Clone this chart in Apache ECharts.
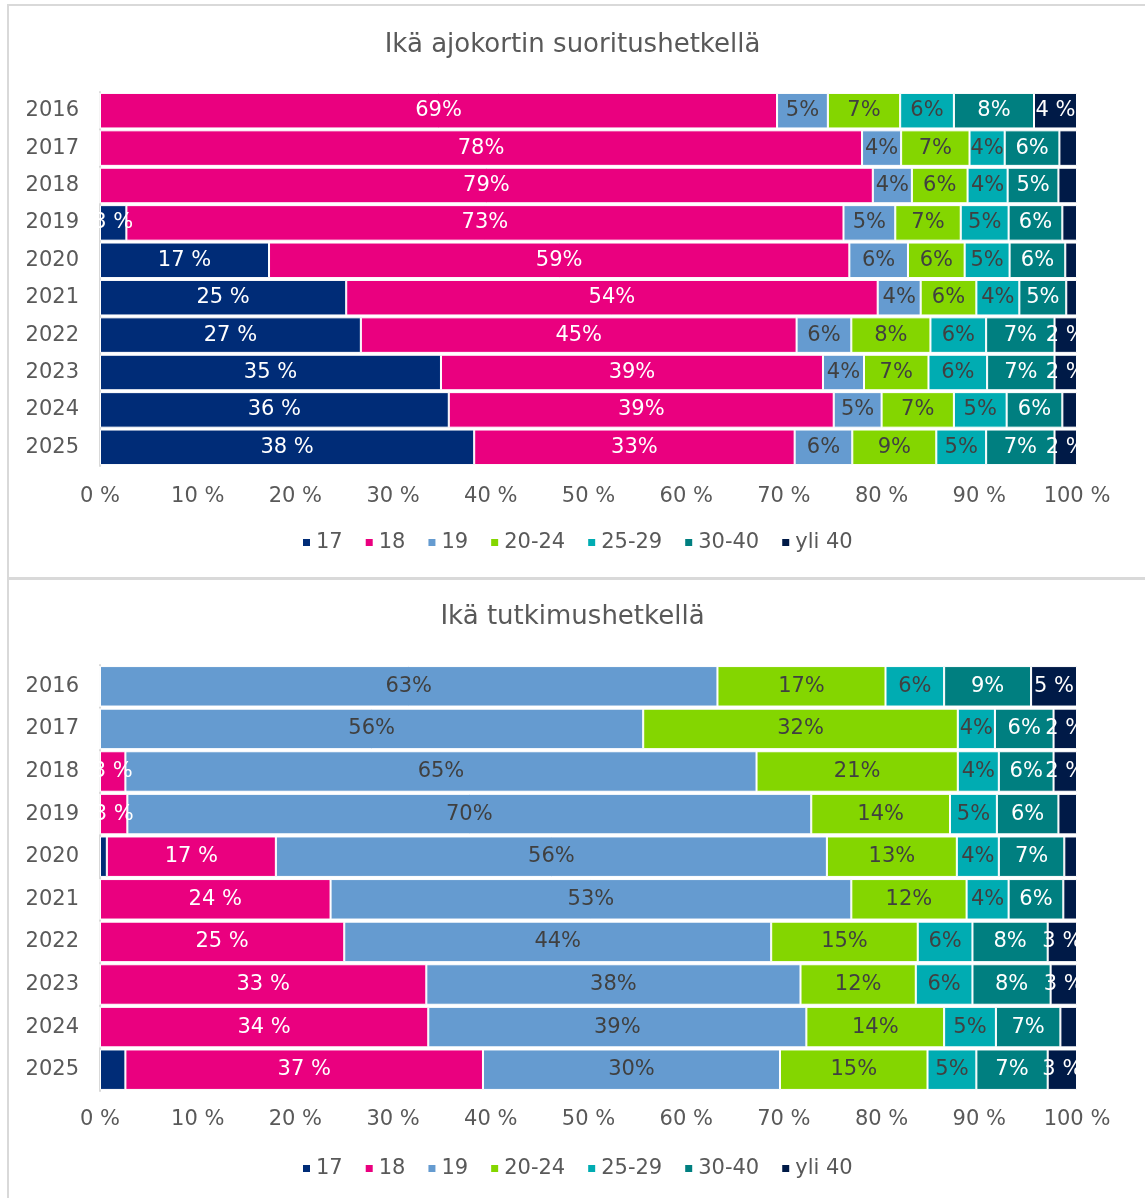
<!DOCTYPE html>
<html>
<head>
<meta charset="utf-8">
<script src="https://cdn.jsdelivr.net/npm/echarts@6/dist/echarts.min.js"></script>
<style>
  body { margin: 0; background: #fff; width: 1145px; height: 1198px; position: relative; overflow: hidden; }
  .panel { position: absolute; left: 7px; width: 1150px; border: 2px solid #d9d9d9; box-sizing: border-box; }
  .chart { position: absolute; left: 0; width: 1145px; }
</style>
</head>
<body>
<div class="panel" style="top: 4px; height: 576px"></div>
<div class="panel" style="top: 577px; height: 640px"></div>
<div id="licenseChart" class="chart" style="top: 0; height: 578px"></div>
<div id="studyChart" class="chart" style="top: 578px; height: 620px"></div>

<script>
// vuodet ja ikäryhmät
var years = ['2016', '2017', '2018', '2019', '2020', '2021', '2022', '2023', '2024', '2025']
var ageGroups = ['17', '18', '19', '20-24', '25-29', '30-40', 'yli 40']
var xTicks = [0, 10, 20, 30, 40, 50, 60, 70, 80, 90, 100]

// Ikä ajokortin suoritushetkellä (%)
var license17 = [0, 0, 0, 2.7, 17.3, 25.2, 26.7, 34.9, 35.7, 38.3]
var license18 = [69.3, 78.0, 79.1, 73.4, 59.4, 54.4, 44.6, 39.1, 39.4, 32.8]
var license19 = [5.2, 4.0, 4.0, 5.3, 6.0, 4.4, 5.6, 4.2, 4.9, 5.9]
var license20to24 = [7.4, 7.0, 5.7, 6.7, 5.8, 5.7, 8.1, 6.6, 7.4, 8.6]
var license25to29 = [5.5, 3.6, 4.1, 4.9, 4.6, 4.4, 5.7, 6.0, 5.4, 5.1]
var license30to40 = [8.2, 5.6, 5.2, 5.5, 5.7, 4.8, 7.0, 6.9, 5.7, 7.0]
var licenseOver40 = [4.4, 1.8, 1.9, 1.5, 1.2, 1.1, 2.3, 2.3, 1.5, 2.3]

// Ikä tutkimushetkellä (%)
var study17 = [0, 0, 0, 0, 0.7, 0, 0, 0, 0, 2.6]
var study18 = [0, 0, 2.6, 2.8, 17.3, 23.6, 25.0, 33.4, 33.6, 36.6]
var study19 = [63.2, 55.6, 64.6, 70.0, 56.4, 53.3, 43.7, 38.3, 38.7, 30.4]
var study20to24 = [17.2, 32.2, 20.6, 14.2, 13.3, 11.8, 15.0, 11.8, 14.1, 15.1]
var study25to29 = [6.0, 3.8, 4.2, 4.8, 4.3, 4.3, 5.6, 5.8, 5.3, 5.0]
var study30to40 = [8.9, 6.0, 5.6, 6.3, 6.7, 5.6, 7.7, 8.0, 6.6, 7.3]
var studyOver40 = [4.7, 2.4, 2.4, 1.9, 1.3, 1.4, 3.0, 2.7, 1.7, 3.0]

var colors = ['#002c77', '#ea007f', '#659bd0', '#84d600', '#00acb2', '#007f80', '#001a47']
var labelColors = ['#fff', '#fff', '#404040', '#404040', '#404040', '#fff', '#fff']
var font = 'DejaVu Sans'
var grey = '#595959'

function buildChart(el, title, seriesData, opts) {
  var chart = echarts.init(document.getElementById(el))
  var series = ageGroups.map(function (name, i) {
    return {
      name: name,
      type: 'bar',
      stack: 'total',
      barCategoryGap: '5%',
      data: seriesData[i],
      itemStyle: { color: colors[i], borderColor: '#fff', borderWidth: 1 },
      label: {
        show: opts.noLabel.indexOf(name) < 0,
        position: 'inside',
        color: labelColors[i],
        fontFamily: font,
        fontSize: 21,
        formatter: function (p) {
          // pienet osuudet jätetään ilman tekstiä
          if (p.value < 2) return ''
          var sep = opts.spaced.indexOf(name) >= 0 ? ' %' : '%'
          return Math.round(p.value) + sep
        }
      }
    }
  })

  chart.setOption({
    animation: false,
    title: {
      text: title,
      left: 'center',
      top: opts.titleTop,
      textStyle: { color: grey, fontFamily: font, fontSize: 26, fontWeight: 'normal' }
    },
    legend: {
      top: opts.legendTop,
      left: 296,
      icon: 'rect',
      itemWidth: 9,
      itemHeight: 9,
      itemGap: 21,
      textStyle: { color: grey, fontFamily: font, fontSize: 21 },
      data: ageGroups
    },
    grid: { left: 100, right: 68, top: opts.gridTop, bottom: opts.gridBottom },
    xAxis: {
      type: 'value',
      min: xTicks[0],
      max: xTicks[xTicks.length - 1],
      interval: 10,
      axisLine: { show: false },
      axisTick: { show: false },
      splitLine: { show: false },
      axisLabel: {
        color: grey,
        fontFamily: font,
        fontSize: 21,
        margin: opts.xLabelMargin,
        formatter: '{value} %'
      }
    },
    yAxis: {
      type: 'category',
      inverse: true,
      data: years,
      axisLine: { show: true, lineStyle: { color: '#d9d9d9', width: 2 } },
      axisTick: { show: false },
      axisLabel: { color: grey, fontFamily: font, fontSize: 21, margin: 21 }
    },
    series: series
  })
  return chart
}

buildChart('licenseChart', 'Ikä ajokortin suoritushetkellä',
  [license17, license18, license19, license20to24, license25to29, license30to40, licenseOver40],
  { titleTop: 27, legendTop: 527, gridTop: 92, gridBottom: 112, xLabelMargin: 20, spaced: ['17', 'yli 40'], noLabel: [] })

buildChart('studyChart', 'Ikä tutkimushetkellä',
  [study17, study18, study19, study20to24, study25to29, study30to40, studyOver40],
  { titleTop: 21, legendTop: 575, gridTop: 87, gridBottom: 107, xLabelMargin: 18, spaced: ['18', 'yli 40'], noLabel: ['17'] })
</script>
</body>
</html>
